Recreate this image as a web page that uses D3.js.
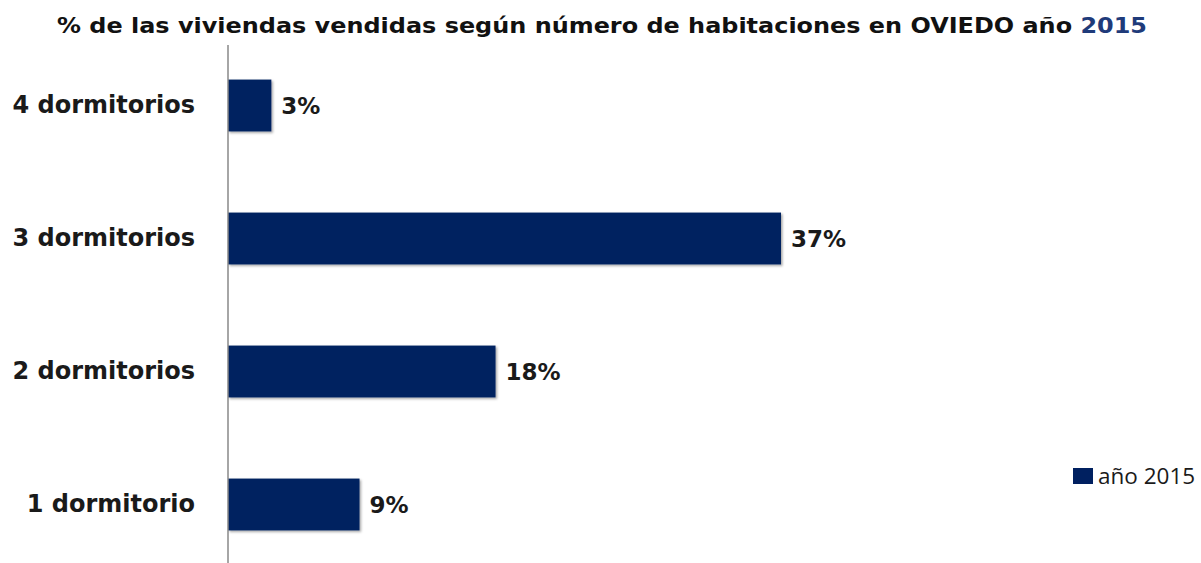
<!DOCTYPE html>
<html>
<head>
<meta charset="utf-8">
<script src="https://cdn.jsdelivr.net/npm/d3@7"></script>
<style>
  body { margin: 0; background: #fff; }
</style>
</head>
<body>
<div class="chart"></div>
<script>
// data
const categories = ['4 dormitorios', '3 dormitorios', '2 dormitorios', '1 dormitorio'];
const values = [2.9, 37, 17.9, 8.8];
const valueLabels = ['3%', '37%', '18%', '9%'];
const seriesName = 'año 2015';

const width = 1201, height = 563;
const barColor = '#002060';

const svg = d3.select('.chart').append('svg')
    .attr('width', width)
    .attr('height', height);

const defs = svg.append('defs');
const f = defs.append('filter').attr('id', 'shadow')
    .attr('x', '-5%').attr('y', '-10%').attr('width', '115%').attr('height', '130%');
f.append('feDropShadow')
    .attr('dx', 1.5).attr('dy', 1.5).attr('stdDeviation', 1)
    .attr('flood-color', '#000').attr('flood-opacity', 0.35);

// title
const title = svg.append('text')
    .attr('x', 57).attr('y', 33)
    .attr('textLength', 1090)
    .attr('lengthAdjust', 'spacingAndGlyphs')
    .style('font-family', 'DejaVu Sans, sans-serif')
    .style('font-weight', 'bold')
    .style('font-size', '20.5px')
    .style('fill', '#111');
title.append('tspan').text('% de las viviendas vendidas según número de habitaciones en OVIEDO año ');
title.append('tspan').style('fill', '#1F3B7A').text('2015');

const x0 = 228;
var x = d3.scaleLinear()
    .domain([0, 37])
    .range([x0, 781]);

var y = d3.scaleBand()
    .domain(categories)
    .range([39, 571])
    .paddingInner(0.61)
    .paddingOuter(0.305);

// bars
svg.selectAll('rect.bar')
    .data(categories)
    .enter()
    .append('rect')
    .attr('class', 'bar')
    .attr('x', x(0))
    .attr('y', d => y(d))
    .attr('width', (d, i) => x(values[i]) - x(0))
    .attr('height', y.bandwidth())
    .attr('fill', barColor)
    .attr('filter', 'url(#shadow)');

// value labels
svg.selectAll('text.val')
    .data(categories)
    .enter()
    .append('text')
    .attr('class', 'val')
    .attr('x', (d, i) => x(values[i]) + 10)
    .attr('y', d => y(d) + y.bandwidth() / 2)
    .attr('dy', '0.36em')
    .style('font-family', 'DejaVu Sans, sans-serif')
    .style('font-weight', 'bold')
    .style('font-size', '23px')
    .style('fill', '#1a1a1a')
    .text((d, i) => valueLabels[i]);

// y axis
const yAxis = svg.append('g')
    .attr('transform', 'translate(' + x0 + ',0)')
    .call(d3.axisLeft(y).tickSize(0).tickPadding(33));
yAxis.select('.domain').remove();
yAxis.selectAll('text')
    .style('font-family', 'DejaVu Sans, sans-serif')
    .style('font-weight', 'bold')
    .style('font-size', '24px')
    .style('fill', '#1a1a1a');

svg.append('line')
    .attr('x1', x0).attr('x2', x0)
    .attr('y1', 45).attr('y2', height)
    .attr('stroke', '#888')
    .attr('stroke-width', 1.5);

// legend
const lg = svg.append('g').attr('transform', 'translate(1073,468)');
lg.append('rect')
    .attr('width', 20).attr('height', 16)
    .attr('fill', barColor);
lg.append('text')
    .attr('x', 25).attr('y', 8)
    .attr('dy', '0.36em')
    .style('font-family', 'Open Sans, sans-serif')
    .style('font-size', '22.5px')
    .style('fill', '#1a1a1a')
    .text(seriesName);
</script>
</body>
</html>
